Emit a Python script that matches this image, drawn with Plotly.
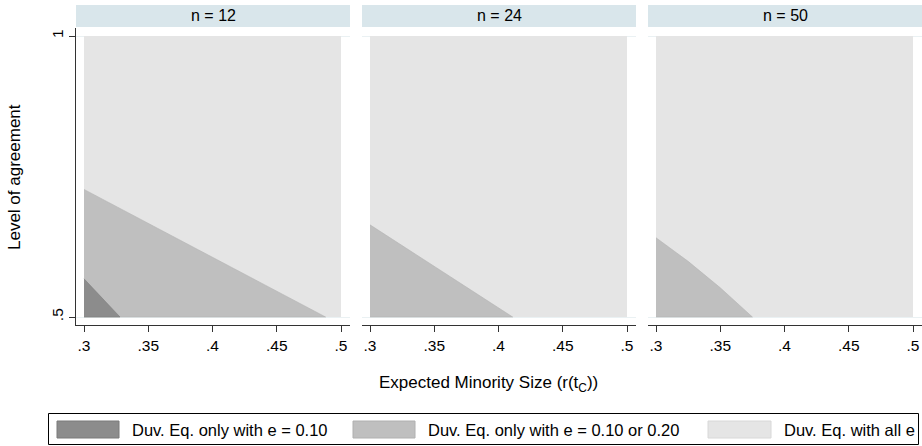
import plotly.graph_objects as go

W, H = 922, 446

# ---------------- data ----------------
panel_titles = ["n = 12", "n = 24", "n = 50"]
x_ticks = [0.30, 0.35, 0.40, 0.45, 0.50]
x_ticktext = [".3", ".35", ".4", ".45", ".5"]
y_ticks = [0.5, 1.0]
y_ticktext = [".5", "1"]

# full region (Duv. Eq. with all e)
all_e_x = [0.30, 0.50, 0.50, 0.30]
all_e_y = [0.50, 0.50, 1.00, 1.00]

# boundary of "only with e = 0.10 or 0.20" region, per panel
n12_e20_x = [0.300, 0.488]
n12_e20_y = [0.727, 0.500]
n24_e20_x = [0.300, 0.411]
n24_e20_y = [0.664, 0.500]
n50_e20_x = [0.300, 0.325, 0.350, 0.375]
n50_e20_y = [0.641, 0.599, 0.552, 0.500]

# boundary of "only with e = 0.10" region (only n = 12)
n12_e10_x = [0.300, 0.328]
n12_e10_y = [0.568, 0.500]

legend_labels = ["Duv. Eq. only with e = 0.10",
                 "Duv. Eq. only with e = 0.10 or 0.20",
                 "Duv. Eq. with all e"]

# ---------------- style ----------------
FONT = "Liberation Sans, Arial, sans-serif"
C_ALL = "#e5e5e5"
C_E20 = "#bfbfbf"
C_E10 = "#8c8c8c"
STRIP = "#d9e6eb"
GRID = "#eaf1f3"

def px_x(p):
    return p / W

def px_y(p):
    return 1 - p / H

panel_left = [76, 362, 648]
panel_w = 274
plot_top, plot_bot = 28, 325
x_range = [0.29377, 0.50700]
y_range = [0.48577, 1.01423]

fig = go.Figure()

e20_sets = [(n12_e20_x, n12_e20_y), (n24_e20_x, n24_e20_y), (n50_e20_x, n50_e20_y)]
e10_sets = [(n12_e10_x, n12_e10_y), None, None]

for i in range(3):
    xa = "x" if i == 0 else f"x{i+1}"
    ya = "y" if i == 0 else f"y{i+1}"
    fig.add_trace(go.Scatter(x=all_e_x, y=all_e_y, fill="toself", fillcolor=C_ALL,
                             mode="lines", line=dict(width=0, color=C_ALL),
                             name=legend_labels[2], showlegend=False, hoverinfo="skip",
                             xaxis=xa, yaxis=ya))
    bx, by = e20_sets[i]
    fig.add_trace(go.Scatter(x=bx + [0.30], y=by + [0.50], fill="toself", fillcolor=C_E20,
                             mode="lines", line=dict(width=0.6, color="#b4b4b4"),
                             name=legend_labels[1], showlegend=False, hoverinfo="skip",
                             xaxis=xa, yaxis=ya))
    if e10_sets[i] is not None:
        dx, dy = e10_sets[i]
        fig.add_trace(go.Scatter(x=dx + [0.30], y=dy + [0.50], fill="toself", fillcolor=C_E10,
                                 mode="lines", line=dict(width=0.6, color="#7e7e7e"),
                                 name=legend_labels[0], showlegend=False, hoverinfo="skip",
                                 xaxis=xa, yaxis=ya))

layout = dict(
    width=W, height=H, margin=dict(l=0, r=0, t=0, b=0),
    paper_bgcolor="white", plot_bgcolor="white",
    font=dict(family=FONT, size=15, color="#000"),
    showlegend=False,
)

for i in range(3):
    xk = "xaxis" if i == 0 else f"xaxis{i+1}"
    yk = "yaxis" if i == 0 else f"yaxis{i+1}"
    xa = "x" if i == 0 else f"x{i+1}"
    ya = "y" if i == 0 else f"y{i+1}"
    left = panel_left[i]
    layout[xk] = dict(
        domain=[px_x(left), px_x(left + panel_w)], range=x_range, anchor=ya,
        tickvals=x_ticks, ticktext=x_ticktext, ticks="outside", ticklen=6,
        tickcolor="#333", tickwidth=1, showline=True, linecolor="#333", linewidth=1,
        showgrid=False, zeroline=False, tickfont=dict(size=15.5, color="#000"),
        fixedrange=True,
    )
    layout[yk] = dict(
        domain=[px_y(plot_bot), px_y(plot_top)], range=y_range, anchor=xa,
        tickvals=y_ticks, ticktext=y_ticktext,
        showgrid=True, gridcolor=GRID, gridwidth=1, zeroline=False,
        fixedrange=True,
    )
    if i == 0:
        layout[yk].update(ticks="outside", ticklen=6, tickcolor="#333", tickwidth=1,
                          showline=True, linecolor="#333", linewidth=1,
                          tickangle=-90, tickfont=dict(size=15.5, color="#000"))
    else:
        layout[yk].update(showticklabels=False, ticks="", showline=False)

shapes = []
annotations = []
for i in range(3):
    left = panel_left[i]
    shapes.append(dict(type="rect", xref="paper", yref="paper",
                       x0=px_x(left), x1=px_x(min(left + panel_w, W)),
                       y0=px_y(27), y1=px_y(5), fillcolor=STRIP, line=dict(width=0),
                       layer="below"))
    annotations.append(dict(text=panel_titles[i], xref="paper", yref="paper",
                            x=px_x(left + panel_w / 2), y=px_y(16), showarrow=False,
                            xanchor="center", yanchor="middle",
                            font=dict(size=16, color="#000")))

# axis titles
annotations.append(dict(text="Level of agreement", xref="paper", yref="paper",
                        x=px_x(15), y=px_y(177), textangle=-90, showarrow=False,
                        xanchor="center", yanchor="middle", font=dict(size=17, color="#000")))
annotations.append(dict(text="Expected Minority Size (r(t<sub>C</sub>))", xref="paper", yref="paper",
                        x=px_x(488), y=px_y(384), showarrow=False,
                        xanchor="center", yanchor="middle", font=dict(size=17, color="#000")))

# legend box
shapes.append(dict(type="rect", xref="paper", yref="paper",
                   x0=px_x(48.5), x1=px_x(918.5), y0=px_y(444.5), y1=px_y(413.5),
                   fillcolor="white", line=dict(color="#000", width=1)))
sw = [(57, 119, C_E10, "#7a7a7a", 130), (353, 415, C_E20, "#b0b0b0", 426),
      (708, 771, C_ALL, "#d8d8d8", 782)]
for (a, b, fc, lc, tx), lab in zip(sw, legend_labels):
    shapes.append(dict(type="rect", xref="paper", yref="paper",
                       x0=px_x(a), x1=px_x(b), y0=px_y(438), y1=px_y(421),
                       fillcolor=fc, line=dict(color=lc, width=1)))
    annotations.append(dict(text=lab, xref="paper", yref="paper",
                            x=px_x(tx), y=px_y(430), showarrow=False,
                            xanchor="left", yanchor="middle",
                            font=dict(size=16.5, color="#000")))

layout["shapes"] = shapes
layout["annotations"] = annotations
fig.update_layout(**layout)

fig.write_html("out.html", config={"displayModeBar": False},
               post_script="document.body.style.margin='0';document.body.style.overflow='hidden';")
